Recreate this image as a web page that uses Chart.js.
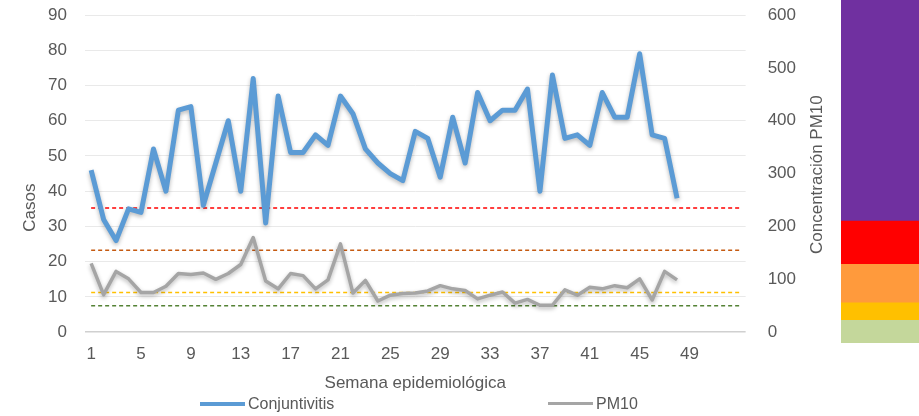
<!DOCTYPE html>
<html>
<head>
<meta charset="utf-8">
<script src="https://cdn.jsdelivr.net/npm/chart.js@4/dist/chart.umd.min.js"></script>
<style>
  body { margin: 0; background: #fff; }
  #wrap { position: relative; width: 919px; height: 416px; }
  #mainChart { position: absolute; left: 0; top: 0; }
  #bandChart { position: absolute; left: 841px; top: 0; }
  .legend { position: absolute; top: 395px; font: 16px "Liberation Sans", Arial, sans-serif; color: #595959; white-space: nowrap; }
  .legend span.sw { display: inline-block; width: 45px; height: 4px; vertical-align: middle; margin-right: 3px; position: relative; top: -1px; }
</style>
</head>
<body>
<div id="wrap">
  <canvas id="mainChart" width="919" height="416"></canvas>
  <canvas id="bandChart" width="78" height="343"></canvas>
  <div class="legend" style="left:200px"><span class="sw" style="background:#5B9BD5"></span>Conjuntivitis</div>
  <div class="legend" style="left:548px"><span class="sw" style="background:#A5A5A5;height:3px"></span>PM10</div>
</div>
<script>
const weeks = ['1','2','3','4','5','6','7','8','9','10','11','12','13','14','15','16','17','18','19','20',
  '21','22','23','24','25','26','27','28','29','30','31','32','33','34','35','36','37','38','39','40',
  '41','42','43','44','45','46','47','48','49','50','51','52','53'];

// casos semanales de conjuntivitis (eje izquierdo)
const conjuntivitis = [46, 32, 26, 35, 34, 52, 40, 63, 64, 36, 48, 60, 40, 72, 31, 67, 51, 51, 56, 53,
  67, 62, 52, 48, 45, 43, 57, 55, 44, 61, 48, 68, 60, 63, 63, 69, 40, 73, 55, 56,
  53, 68, 61, 61, 79, 56, 55, 38];

// concentración PM10 (eje derecho)
const pm10 = [130, 71, 115, 101, 75, 75, 87, 111, 109, 112, 100, 111, 128, 179, 97, 82, 111, 107, 82, 99,
  167, 74, 98, 59, 70, 73, 74, 78, 88, 82, 79, 63, 70, 76, 55, 62, 51, 51, 80, 70,
  85, 82, 88, 84, 101, 61, 115, 99];

// límites PM10 (líneas punteadas)
const thresholds = [235, 155, 75, 50];
const thresholdColors = ['#FF0000', '#C55A11', '#FFC000', '#548235'];

// barra de colores a la derecha (límites de cada franja)
const bandLimits = [[-21, 22], [22, 55], [55, 128], [128, 210], [210, 629]];
const bandColors = ['#C4D79B', '#FFC000', '#FF9A3C', '#FF0000', '#7030A0'];

const FONT = '"Liberation Sans", Arial, sans-serif';
const GREY = '#595959';

const thresholdSets = thresholds.map((v, i) => ({
  label: 'limite' + v,
  data: [{ x: weeks[0], y: v }, { x: weeks[weeks.length - 1], y: v }],
  yAxisID: 'y1',
  borderColor: thresholdColors[i],
  borderWidth: 1.5,
  borderDash: [4, 3],
  pointRadius: 0,
  fill: false,
}));

const shadowPlugin = {
  id: 'lineShadow',
  beforeDatasetDraw(chart, args) {
    if (args.index > 1) return;
    const ctx = chart.ctx;
    ctx.save();
    ctx.shadowColor = 'rgba(0,0,0,0.28)';
    ctx.shadowBlur = 4;
    ctx.shadowOffsetY = 2;
  },
  afterDatasetDraw(chart, args) {
    if (args.index > 1) return;
    chart.ctx.restore();
  }
};

// títulos de los ejes verticales (ambos leídos de abajo hacia arriba)
const titlesPlugin = {
  id: 'axisTitles',
  afterDraw(chart) {
    const { ctx, chartArea } = chart;
    const midY = (chartArea.top + chartArea.bottom) / 2;
    ctx.save();
    ctx.fillStyle = GREY;
    ctx.font = '17px ' + FONT;
    ctx.textAlign = 'center';
    ctx.textBaseline = 'middle';
    ctx.save();
    ctx.translate(30, midY + 34);
    ctx.rotate(-Math.PI / 2);
    ctx.fillText('Casos', 0, 0);
    ctx.restore();
    ctx.save();
    ctx.translate(817, midY + 1);
    ctx.rotate(-Math.PI / 2);
    ctx.fillText('Concentración PM10', 0, 0);
    ctx.restore();
    ctx.restore();
  }
};

new Chart(document.getElementById('mainChart'), {
  type: 'line',
  data: {
    labels: weeks,
    datasets: [
      {
        label: 'Conjuntivitis',
        data: conjuntivitis,
        yAxisID: 'y',
        borderColor: '#5B9BD5',
        backgroundColor: '#5B9BD5',
        borderWidth: 5,
        pointRadius: 0,
        tension: 0,
        borderJoinStyle: 'round',
      },
      {
        label: 'PM10',
        data: pm10,
        yAxisID: 'y1',
        borderColor: '#A5A5A5',
        backgroundColor: '#A5A5A5',
        borderWidth: 3.5,
        pointRadius: 0,
        tension: 0,
        borderJoinStyle: 'round',
      },
      ...thresholdSets,
    ],
  },
  options: {
    responsive: false,
    animation: false,
    layout: { padding: { left: 45, right: 120, top: 15, bottom: 22 } },
    plugins: {
      legend: { display: false },
      tooltip: { enabled: false },
    },
    scales: {
      x: {
        offset: true,
        grid: { display: true, color: 'transparent', drawTicks: true, tickLength: 9, tickColor: 'transparent' },
        border: { display: false },
        ticks: {
          autoSkip: false,
          maxRotation: 0,
          padding: 3,
          color: GREY,
          font: { family: FONT, size: 17 },
          callback: (v, i) => (i % 4 === 0 && i < 49 ? weeks[i] : ''),
        },
        title: {
          display: true,
          text: 'Semana epidemiológica',
          color: GREY,
          font: { family: FONT, size: 17 },
          padding: { top: 6, bottom: 0 },
        },
      },
      y: {
        position: 'left',
        min: 0,
        max: 90,
        ticks: { stepSize: 10, padding: 3, color: GREY, font: { family: FONT, size: 17 } },
        grid: {
          drawTicks: true,
          tickLength: 15,
          tickColor: 'transparent',
          color: c => (c.tick && c.tick.value === 0 ? '#D0D0D0' : '#E9E9E9'),
          lineWidth: c => (c.tick && c.tick.value === 0 ? 1.5 : 1),
        },
        border: { display: false },
      },
      y1: {
        position: 'right',
        min: 0,
        max: 600,
        ticks: { stepSize: 100, padding: 3, color: GREY, font: { family: FONT, size: 17 } },
        grid: { display: true, color: 'transparent', drawOnChartArea: false, drawTicks: true, tickLength: 19, tickColor: 'transparent' },
        border: { display: false },
      },
    },
  },
  plugins: [shadowPlugin, titlesPlugin],
});

// barra de franjas de color
new Chart(document.getElementById('bandChart'), {
  type: 'bar',
  data: {
    labels: ['PM10'],
    datasets: bandLimits.map((b, i) => ({
      data: [b],
      backgroundColor: bandColors[i],
      barPercentage: 1,
      categoryPercentage: 1,
      borderWidth: 0,
    })),
  },
  options: {
    responsive: false,
    animation: false,
    layout: { padding: 0 },
    plugins: { legend: { display: false }, tooltip: { enabled: false } },
    scales: {
      x: { display: false, stacked: true },
      y: { display: false, min: -21, max: 629 },
    },
  },
});
</script>
</body>
</html>
